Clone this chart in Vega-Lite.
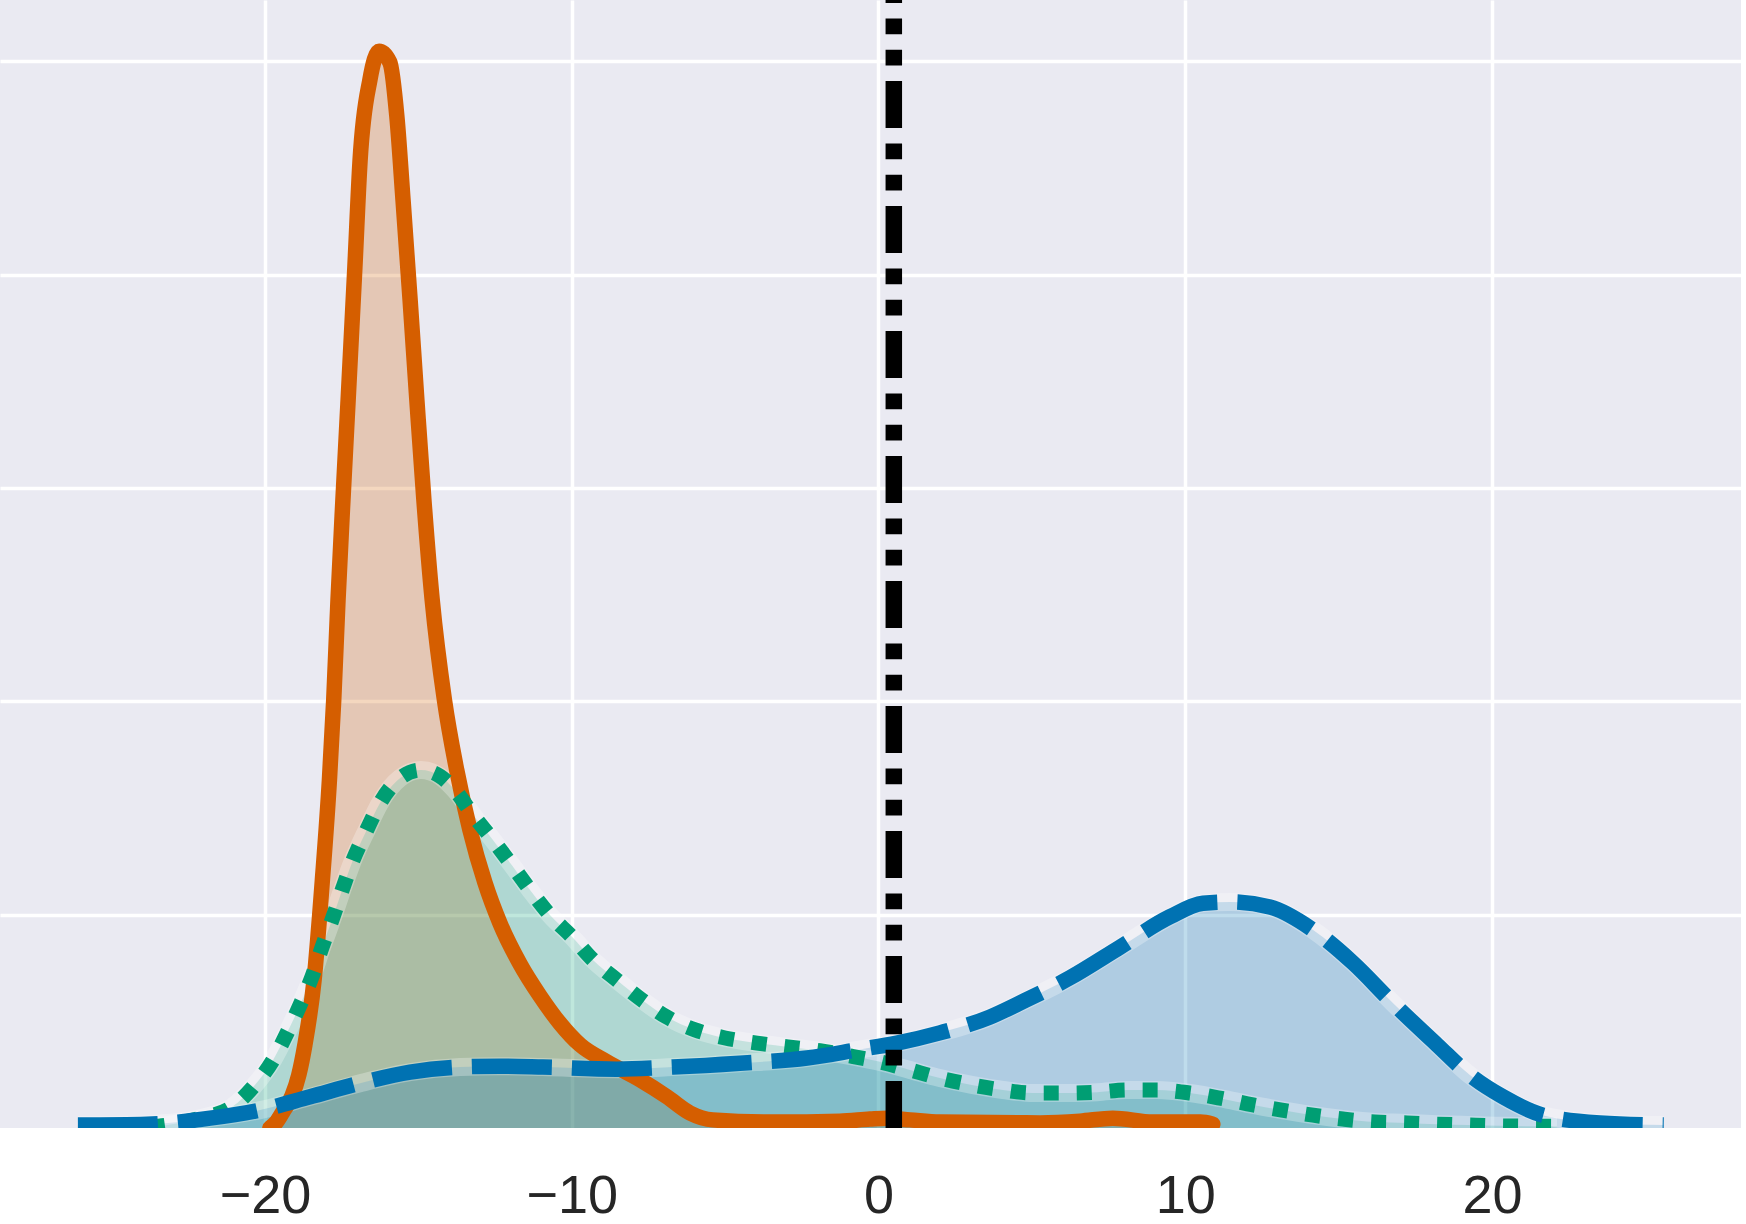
{
  "$schema": "https://vega.github.io/schema/vega-lite/v6.json",
  "width": 1741,
  "height": 1128,
  "autosize": "none",
  "padding": {"left": 0, "top": 0, "right": 5, "bottom": 96},
  "background": "white",
  "config": {
    "view": {"fill": "#EAEAF2", "stroke": null},
    "axis": {
      "grid": true,
      "gridColor": "white",
      "gridWidth": 3.5,
      "domain": false,
      "ticks": false,
      "tickSize": 0,
      "title": null,
      "labelFont": "Liberation Sans",
      "labelFontSize": 54,
      "labelColor": "#262626"
    }
  },
  "data": {
    "values": [
      {"series": "ref", "x": 0.5, "y": 0},

      {"series": "orange", "x": -19.84, "y": 0.0},
      {"series": "orange", "x": -19.65, "y": 0.0012},
      {"series": "orange", "x": -19.40, "y": 0.0040},
      {"series": "orange", "x": -19.12, "y": 0.0075},
      {"series": "orange", "x": -18.90, "y": 0.0124},
      {"series": "orange", "x": -18.70, "y": 0.0195},
      {"series": "orange", "x": -18.40, "y": 0.0347},
      {"series": "orange", "x": -18.13, "y": 0.0581},
      {"series": "orange", "x": -17.90, "y": 0.0816},
      {"series": "orange", "x": -17.76, "y": 0.1003},
      {"series": "orange", "x": -17.62, "y": 0.1238},
      {"series": "orange", "x": -17.46, "y": 0.1472},
      {"series": "orange", "x": -17.29, "y": 0.1707},
      {"series": "orange", "x": -17.07, "y": 0.2018},
      {"series": "orange", "x": -16.90, "y": 0.2269},
      {"series": "orange", "x": -16.58, "y": 0.2457},
      {"series": "orange", "x": -16.28, "y": 0.2524},
      {"series": "orange", "x": -15.93, "y": 0.2498},
      {"series": "orange", "x": -15.70, "y": 0.2370},
      {"series": "orange", "x": -15.50, "y": 0.2175},
      {"series": "orange", "x": -15.27, "y": 0.1941},
      {"series": "orange", "x": -15.05, "y": 0.1707},
      {"series": "orange", "x": -14.82, "y": 0.1472},
      {"series": "orange", "x": -14.55, "y": 0.1238},
      {"series": "orange", "x": -14.15, "y": 0.1003},
      {"series": "orange", "x": -13.75, "y": 0.0839},
      {"series": "orange", "x": -13.32, "y": 0.0699},
      {"series": "orange", "x": -12.83, "y": 0.0575},
      {"series": "orange", "x": -12.34, "y": 0.0480},
      {"series": "orange", "x": -11.69, "y": 0.0385},
      {"series": "orange", "x": -11.04, "y": 0.0310},
      {"series": "orange", "x": -10.38, "y": 0.0245},
      {"series": "orange", "x": -9.73, "y": 0.0195},
      {"series": "orange", "x": -8.85, "y": 0.0155},
      {"series": "orange", "x": -7.77, "y": 0.0113},
      {"series": "orange", "x": -6.89, "y": 0.0073},
      {"series": "orange", "x": -6.14, "y": 0.0035},
      {"series": "orange", "x": -5.40, "y": 0.0019},
      {"series": "orange", "x": -3.44, "y": 0.0014},
      {"series": "orange", "x": -1.26, "y": 0.0016},
      {"series": "orange", "x": -0.28, "y": 0.0021},
      {"series": "orange", "x": 0.28, "y": 0.0023},
      {"series": "orange", "x": 1.03, "y": 0.0019},
      {"series": "orange", "x": 2.00, "y": 0.0014},
      {"series": "orange", "x": 5.27, "y": 0.0012},
      {"series": "orange", "x": 6.57, "y": 0.0016},
      {"series": "orange", "x": 7.64, "y": 0.0023},
      {"series": "orange", "x": 8.95, "y": 0.0014},
      {"series": "orange", "x": 10.50, "y": 0.0014},
      {"series": "orange", "x": 10.90, "y": 0.0009},

      {"series": "green", "x": -23.75, "y": 0.0002},
      {"series": "green", "x": -23.19, "y": 0.0007},
      {"series": "green", "x": -22.12, "y": 0.0023},
      {"series": "green", "x": -21.08, "y": 0.0049},
      {"series": "green", "x": -20.33, "y": 0.0101},
      {"series": "green", "x": -19.74, "y": 0.0159},
      {"series": "green", "x": -19.28, "y": 0.0223},
      {"series": "green", "x": -18.86, "y": 0.0288},
      {"series": "green", "x": -18.47, "y": 0.0354},
      {"series": "green", "x": -18.14, "y": 0.0424},
      {"series": "green", "x": -17.78, "y": 0.0495},
      {"series": "green", "x": -17.46, "y": 0.0563},
      {"series": "green", "x": -17.13, "y": 0.0628},
      {"series": "green", "x": -16.68, "y": 0.0699},
      {"series": "green", "x": -16.25, "y": 0.0762},
      {"series": "green", "x": -15.60, "y": 0.0820},
      {"series": "green", "x": -14.92, "y": 0.0839},
      {"series": "green", "x": -14.30, "y": 0.0825},
      {"series": "green", "x": -13.81, "y": 0.0792},
      {"series": "green", "x": -13.22, "y": 0.0734},
      {"series": "green", "x": -12.57, "y": 0.0675},
      {"series": "green", "x": -11.95, "y": 0.0616},
      {"series": "green", "x": -11.36, "y": 0.0558},
      {"series": "green", "x": -10.71, "y": 0.0499},
      {"series": "green", "x": -9.99, "y": 0.0448},
      {"series": "green", "x": -9.31, "y": 0.0394},
      {"series": "green", "x": -8.53, "y": 0.0347},
      {"series": "green", "x": -7.71, "y": 0.0300},
      {"series": "green", "x": -6.90, "y": 0.0260},
      {"series": "green", "x": -5.98, "y": 0.0230},
      {"series": "green", "x": -5.00, "y": 0.0211},
      {"series": "green", "x": -3.96, "y": 0.0199},
      {"series": "green", "x": -2.95, "y": 0.0190},
      {"series": "green", "x": -1.91, "y": 0.0181},
      {"series": "green", "x": -0.86, "y": 0.0168},
      {"series": "green", "x": 0.05, "y": 0.0155},
      {"series": "green", "x": 1.03, "y": 0.0136},
      {"series": "green", "x": 2.00, "y": 0.0117},
      {"series": "green", "x": 3.04, "y": 0.0101},
      {"series": "green", "x": 4.06, "y": 0.0089},
      {"series": "green", "x": 5.04, "y": 0.0082},
      {"series": "green", "x": 6.02, "y": 0.0082},
      {"series": "green", "x": 7.13, "y": 0.0084},
      {"series": "green", "x": 8.10, "y": 0.0089},
      {"series": "green", "x": 9.08, "y": 0.0089},
      {"series": "green", "x": 10.15, "y": 0.0082},
      {"series": "green", "x": 11.13, "y": 0.0070},
      {"series": "green", "x": 12.21, "y": 0.0054},
      {"series": "green", "x": 13.15, "y": 0.0042},
      {"series": "green", "x": 14.17, "y": 0.0030},
      {"series": "green", "x": 15.14, "y": 0.0021},
      {"series": "green", "x": 16.18, "y": 0.0014},
      {"series": "green", "x": 17.23, "y": 0.0012},
      {"series": "green", "x": 18.21, "y": 0.0009},
      {"series": "green", "x": 19.22, "y": 0.0007},
      {"series": "green", "x": 20.26, "y": 0.0005},
      {"series": "green", "x": 22.12, "y": 0.0004},

      {"series": "blue", "x": -26.10, "y": 0.0007},
      {"series": "blue", "x": -23.85, "y": 0.0009},
      {"series": "blue", "x": -21.79, "y": 0.0023},
      {"series": "blue", "x": -20.16, "y": 0.0042},
      {"series": "blue", "x": -18.53, "y": 0.0073},
      {"series": "blue", "x": -16.90, "y": 0.0105},
      {"series": "blue", "x": -15.27, "y": 0.0131},
      {"series": "blue", "x": -13.64, "y": 0.0143},
      {"series": "blue", "x": -12.34, "y": 0.0145},
      {"series": "blue", "x": -10.94, "y": 0.0143},
      {"series": "blue", "x": -8.53, "y": 0.0138},
      {"series": "blue", "x": -6.70, "y": 0.0143},
      {"series": "blue", "x": -4.52, "y": 0.0152},
      {"series": "blue", "x": -2.33, "y": 0.0164},
      {"series": "blue", "x": -0.70, "y": 0.0183},
      {"series": "blue", "x": 0.60, "y": 0.0199},
      {"series": "blue", "x": 2.00, "y": 0.0223},
      {"series": "blue", "x": 3.63, "y": 0.0260},
      {"series": "blue", "x": 4.61, "y": 0.0293},
      {"series": "blue", "x": 6.24, "y": 0.0352},
      {"series": "blue", "x": 7.88, "y": 0.0424},
      {"series": "blue", "x": 9.50, "y": 0.0495},
      {"series": "blue", "x": 10.58, "y": 0.0527},
      {"series": "blue", "x": 11.46, "y": 0.0530},
      {"series": "blue", "x": 12.76, "y": 0.0518},
      {"series": "blue", "x": 14.17, "y": 0.0464},
      {"series": "blue", "x": 15.47, "y": 0.0387},
      {"series": "blue", "x": 16.77, "y": 0.0293},
      {"series": "blue", "x": 18.21, "y": 0.0195},
      {"series": "blue", "x": 19.28, "y": 0.0124},
      {"series": "blue", "x": 20.36, "y": 0.0073},
      {"series": "blue", "x": 21.66, "y": 0.0030},
      {"series": "blue", "x": 23.52, "y": 0.0012},
      {"series": "blue", "x": 25.60, "y": 0.0007}
    ]
  },
  "encoding": {
    "x": {
      "field": "x",
      "type": "quantitative",
      "scale": {"domain": [-28.64, 28.12], "nice": false, "zero": false},
      "axis": {"values": [-20, -10, 0, 10, 20], "labelPadding": 41, "labelFlush": false}
    },
    "y": {
      "field": "y",
      "type": "quantitative",
      "scale": {"domain": [0, 0.2644], "nice": false, "zero": false},
      "axis": {"values": [0.05, 0.1, 0.15, 0.2, 0.25], "labels": false}
    }
  },
  "layer": [
    {
      "transform": [{"filter": "datum.series === 'orange'"}],
      "mark": {"type": "area", "color": "#D55E00", "opacity": 0.25, "interpolate": "monotone", "clip": true}
    },
    {
      "transform": [{"filter": "datum.series === 'green'"}],
      "mark": {"type": "area", "color": "#009E73", "opacity": 0.25, "interpolate": "monotone", "clip": true}
    },
    {
      "transform": [{"filter": "datum.series === 'blue'"}],
      "mark": {"type": "area", "color": "#0072B2", "opacity": 0.25, "interpolate": "monotone", "clip": true}
    },
    {
      "transform": [{"filter": "datum.series === 'green'"}],
      "mark": {"type": "line", "color": "white", "opacity": 0.28, "strokeWidth": 18, "interpolate": "monotone", "clip": true}
    },
    {
      "transform": [{"filter": "datum.series === 'blue'"}],
      "mark": {"type": "line", "color": "white", "opacity": 0.28, "strokeWidth": 18, "interpolate": "monotone", "clip": true}
    },
    {
      "transform": [{"filter": "datum.series === 'orange'"}],
      "mark": {"type": "line", "color": "#D55E00", "strokeWidth": 15.5, "strokeJoin": "round", "strokeCap": "round", "interpolate": "monotone", "clip": true}
    },
    {
      "transform": [{"filter": "datum.series === 'green'"}],
      "mark": {"type": "line", "color": "#009E73", "strokeWidth": 15, "strokeDash": [15, 18], "strokeCap": "butt", "interpolate": "monotone", "clip": true}
    },
    {
      "transform": [{"filter": "datum.series === 'blue'"}],
      "mark": {"type": "line", "color": "#0072B2", "strokeWidth": 15.5, "strokeDash": [80, 20], "strokeCap": "butt", "interpolate": "monotone", "clip": true}
    },
    {
      "transform": [{"filter": "datum.series === 'ref'"}],
      "mark": {"type": "rule", "color": "black", "strokeWidth": 16.5, "strokeDash": [47, 15.6, 15.6, 15.6, 15.6, 15.6], "strokeCap": "butt", "clip": true},
      "encoding": {
        "y2": {"datum": 0.2644}
      }
    }
  ]
}
